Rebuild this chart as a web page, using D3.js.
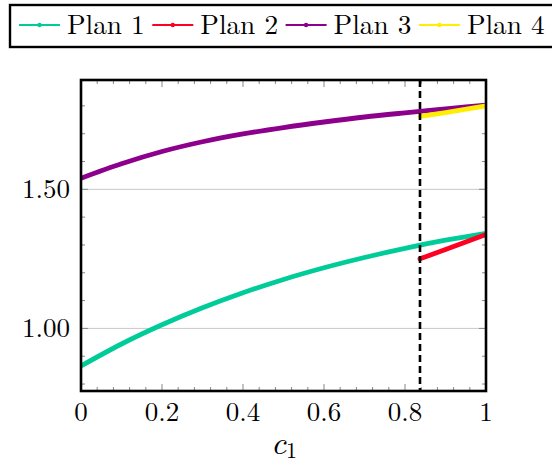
<!DOCTYPE html>
<html><head><meta charset="utf-8">
<script src="https://cdn.jsdelivr.net/npm/d3@7"></script>
<style>body{margin:0;background:#fff}svg{display:block}</style>
</head><body>
<svg id="c" width="552" height="464"></svg>
<script>
const c1 = [0,0.1,0.2,0.3,0.4,0.5,0.6,0.7,0.8,0.9,1.0];
const plan1 = [0.865,0.944,1.013,1.074,1.128,1.176,1.218,1.255,1.288,1.317,1.342];
const plan3 = [1.540,1.592,1.636,1.671,1.699,1.722,1.742,1.760,1.775,1.789,1.803];
const c1Tail = [0.837,0.9,1.0];
const plan2 = [1.250,1.284,1.338];
const plan4 = [1.762,1.776,1.800];
const switchPoint = 0.837;
const xTicks = [0,0.2,0.4,0.6,0.8,1];
const yTicks = [1.0,1.5];
const seriesNames = ["Plan 1","Plan 2","Plan 3","Plan 4"];
const seriesColors = ["#00cc99","#ff0022","#8c008c","#ffee00"];

const svg = d3.select("#c");
const font = '"Latin Modern Roman", "Liberation Serif", serif';
const L=81, R=486, T=80, B=391;
const x = d3.scaleLinear().domain([0,1]).range([L,R]);
const y = d3.scaleLinear().domain([0.775,1.893]).range([B,T]);

// grid
svg.append("g").selectAll("line").data(yTicks).join("line")
  .attr("x1",L).attr("x2",R).attr("y1",d=>y(d)).attr("y2",d=>y(d))
  .attr("stroke","#c8c8c8").attr("stroke-width",1);

// ticks
const xMinor = d3.range(0,1.0001,0.04).map(v=>+v.toFixed(2));
const yMinor = d3.range(0.8,1.8501,0.1).map(v=>+v.toFixed(2));
const tg = svg.append("g").attr("stroke","#888").attr("stroke-width",1);
xMinor.forEach(v=>{
  const major = xTicks.some(t=>Math.abs(t-v)<1e-6);
  const len = major?7:4;
  tg.append("line").attr("x1",x(v)).attr("x2",x(v)).attr("y1",B).attr("y2",B-len);
  tg.append("line").attr("x1",x(v)).attr("x2",x(v)).attr("y1",T).attr("y2",T+len);
});
yMinor.forEach(v=>{
  const major = yTicks.some(t=>Math.abs(t-v)<1e-6);
  const len = major?7:4;
  tg.append("line").attr("y1",y(v)).attr("y2",y(v)).attr("x1",L).attr("x2",L+len);
  tg.append("line").attr("y1",y(v)).attr("y2",y(v)).attr("x1",R).attr("x2",R-len);
});

// lines
svg.append("clipPath").attr("id","clp").append("rect")
  .attr("x",L).attr("y",T).attr("width",R-L).attr("height",B-T);
const line = d3.line().x(d=>x(d[0])).y(d=>y(d[1])).curve(d3.curveMonotoneX);
const data = [
  d3.zip(c1,plan1), d3.zip(c1Tail,plan2), d3.zip(c1,plan3), d3.zip(c1Tail,plan4)
];
const lg = svg.append("g").attr("clip-path","url(#clp)");
data.forEach((d,i)=>{
  lg.append("path").attr("d",line(d)).attr("fill","none")
    .attr("stroke",seriesColors[i]).attr("stroke-width",4.8).attr("stroke-linecap","round");
});

// dashed vertical
svg.append("line").attr("x1",x(switchPoint)).attr("x2",x(switchPoint))
  .attr("y1",T).attr("y2",B).attr("stroke","#000").attr("stroke-width",2.6)
  .attr("stroke-dasharray","7,4");

// frame
svg.append("rect").attr("x",L).attr("y",T).attr("width",R-L).attr("height",B-T)
  .attr("fill","none").attr("stroke","#000").attr("stroke-width",2.6);

// tick labels
svg.append("g").selectAll("text").data(xTicks).join("text")
  .attr("x",d=>x(d)).attr("y",421).attr("text-anchor","middle")
  .style("font-family",font).style("font-size","27px")
  .text(d=>d3.format("")(d));
svg.append("g").selectAll("text").data(yTicks).join("text")
  .attr("x",70).attr("y",d=>y(d)+9).attr("text-anchor","end")
  .style("font-family",font).style("font-size","27px")
  .text(d=>d3.format(".2f")(d));

// axis label
const xl = svg.append("text").attr("x",284).attr("y",454).attr("text-anchor","middle")
  .style("font-family",font).style("font-size","33px");
xl.append("tspan").style("font-style","italic").text("c");
xl.append("tspan").style("font-size","22px").attr("dy",4).text("1");

// legend
svg.append("rect").attr("x",10).attr("y",5).attr("width",560).attr("height",42)
  .attr("fill","#fff").attr("stroke","#000").attr("stroke-width",2.4);
seriesNames.forEach((n,i)=>{
  const ox = 19 + i*133.3;
  svg.append("line").attr("x1",ox).attr("x2",ox+41).attr("y1",25).attr("y2",25)
    .attr("stroke",seriesColors[i]).attr("stroke-width",2.2);
  svg.append("circle").attr("cx",ox+20.5).attr("cy",25).attr("r",2.2).attr("fill",seriesColors[i]);
  svg.append("text").attr("x",ox+48).attr("y",34)
    .style("font-family",font).style("font-size","27.3px").text(n);
});
</script>
</body></html>
